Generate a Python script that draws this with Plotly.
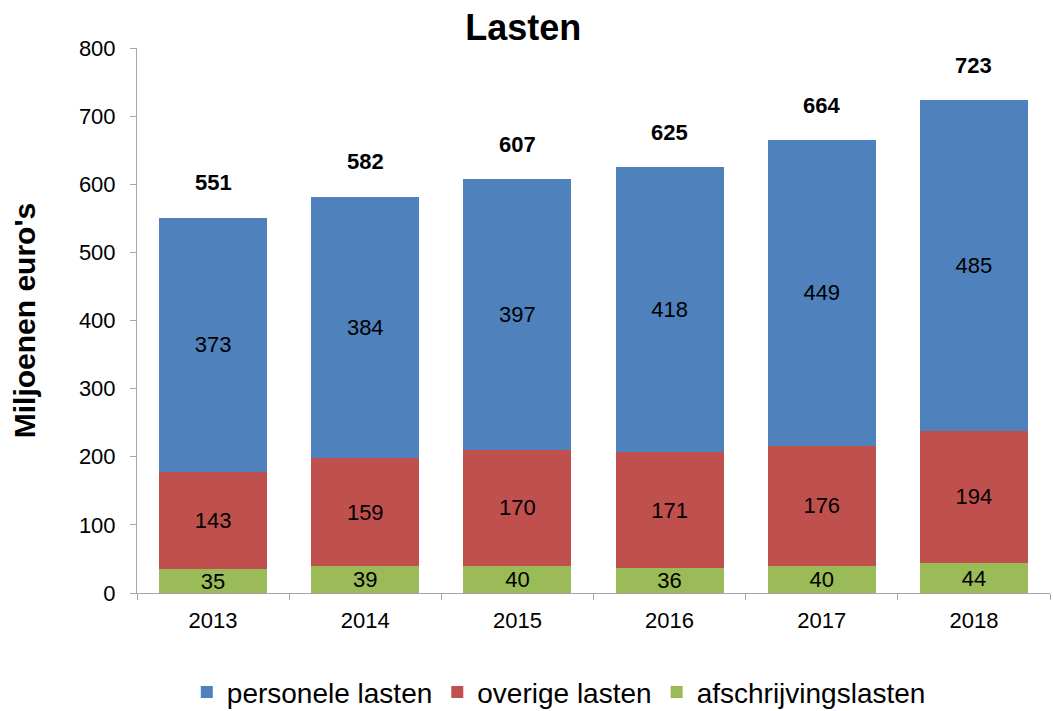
import plotly.graph_objects as go

years = ["2013", "2014", "2015", "2016", "2017", "2018"]
personele = [373, 384, 397, 418, 449, 485]
overige = [143, 159, 170, 171, 176, 194]
afschrijving = [35, 39, 40, 36, 40, 44]
totals = [551, 582, 607, 625, 664, 723]

font_family = "Liberation Sans, Arial, sans-serif"
label_font = dict(size=22, color="black", family=font_family)

fig = go.Figure()
fig.add_trace(go.Bar(x=years, y=afschrijving, name="afschrijvingslasten",
                     marker=dict(color="#9bbb59", line=dict(width=0)),
                     text=afschrijving, textposition="inside", insidetextanchor="middle",
                     textangle=0, constraintext="none", textfont=label_font))
fig.add_trace(go.Bar(x=years, y=overige, name="overige lasten",
                     marker=dict(color="#c0504d", line=dict(width=0)),
                     text=overige, textposition="inside", insidetextanchor="middle",
                     textangle=0, constraintext="none", textfont=label_font))
fig.add_trace(go.Bar(x=years, y=personele, name="personele lasten",
                     marker=dict(color="#4f81bd", line=dict(width=0)),
                     text=personele, textposition="inside", insidetextanchor="middle",
                     textangle=0, constraintext="none", textfont=label_font))

for i, tot in enumerate(totals):
    fig.add_annotation(x=i, y=tot, xref="x", yref="y", text="<b>%d</b>" % tot,
                       showarrow=False, yshift=35,
                       font=dict(size=22, color="black", family=font_family))

fig.update_layout(
    width=1053, height=711,
    barmode="stack", bargap=0.29,
    plot_bgcolor="white", paper_bgcolor="white",
    margin=dict(l=137, r=3, t=48, b=118, autoexpand=False),
    title=dict(text="<b>Lasten</b>", x=0.497, xanchor="center", y=0.962, yanchor="middle",
               font=dict(size=36, color="black", family=font_family)),
    font=dict(family=font_family, color="black"),
    legend=dict(orientation="h", x=0.462, xanchor="center", y=-0.182, yanchor="middle",
                traceorder="reversed", font=dict(size=28, color="black"),
                itemwidth=30),
    xaxis=dict(type="category", categoryorder="array", categoryarray=years,
               range=[-0.5, 5.5], showline=True, linecolor="#a6a6a6", linewidth=1,
               ticks="outside", tickson="boundaries", ticklen=6, tickcolor="#a6a6a6",
               tickfont=dict(size=22, color="black"), showgrid=False, tickangle=0,
               ticklabelstandoff=8, automargin=False),
    yaxis=dict(range=[0, 800], dtick=100, showline=True, linecolor="#a6a6a6", linewidth=1,
               ticks="outside", ticklen=6, tickcolor="#a6a6a6", showgrid=False,
               zeroline=False, tickfont=dict(size=22, color="black"),
               ticklabelstandoff=10, automargin=False,
               title=dict(text="<b>Miljoenen euro's</b>", font=dict(size=30, color="black"),
                          standoff=34)),
)

fig.write_html("out.html")
